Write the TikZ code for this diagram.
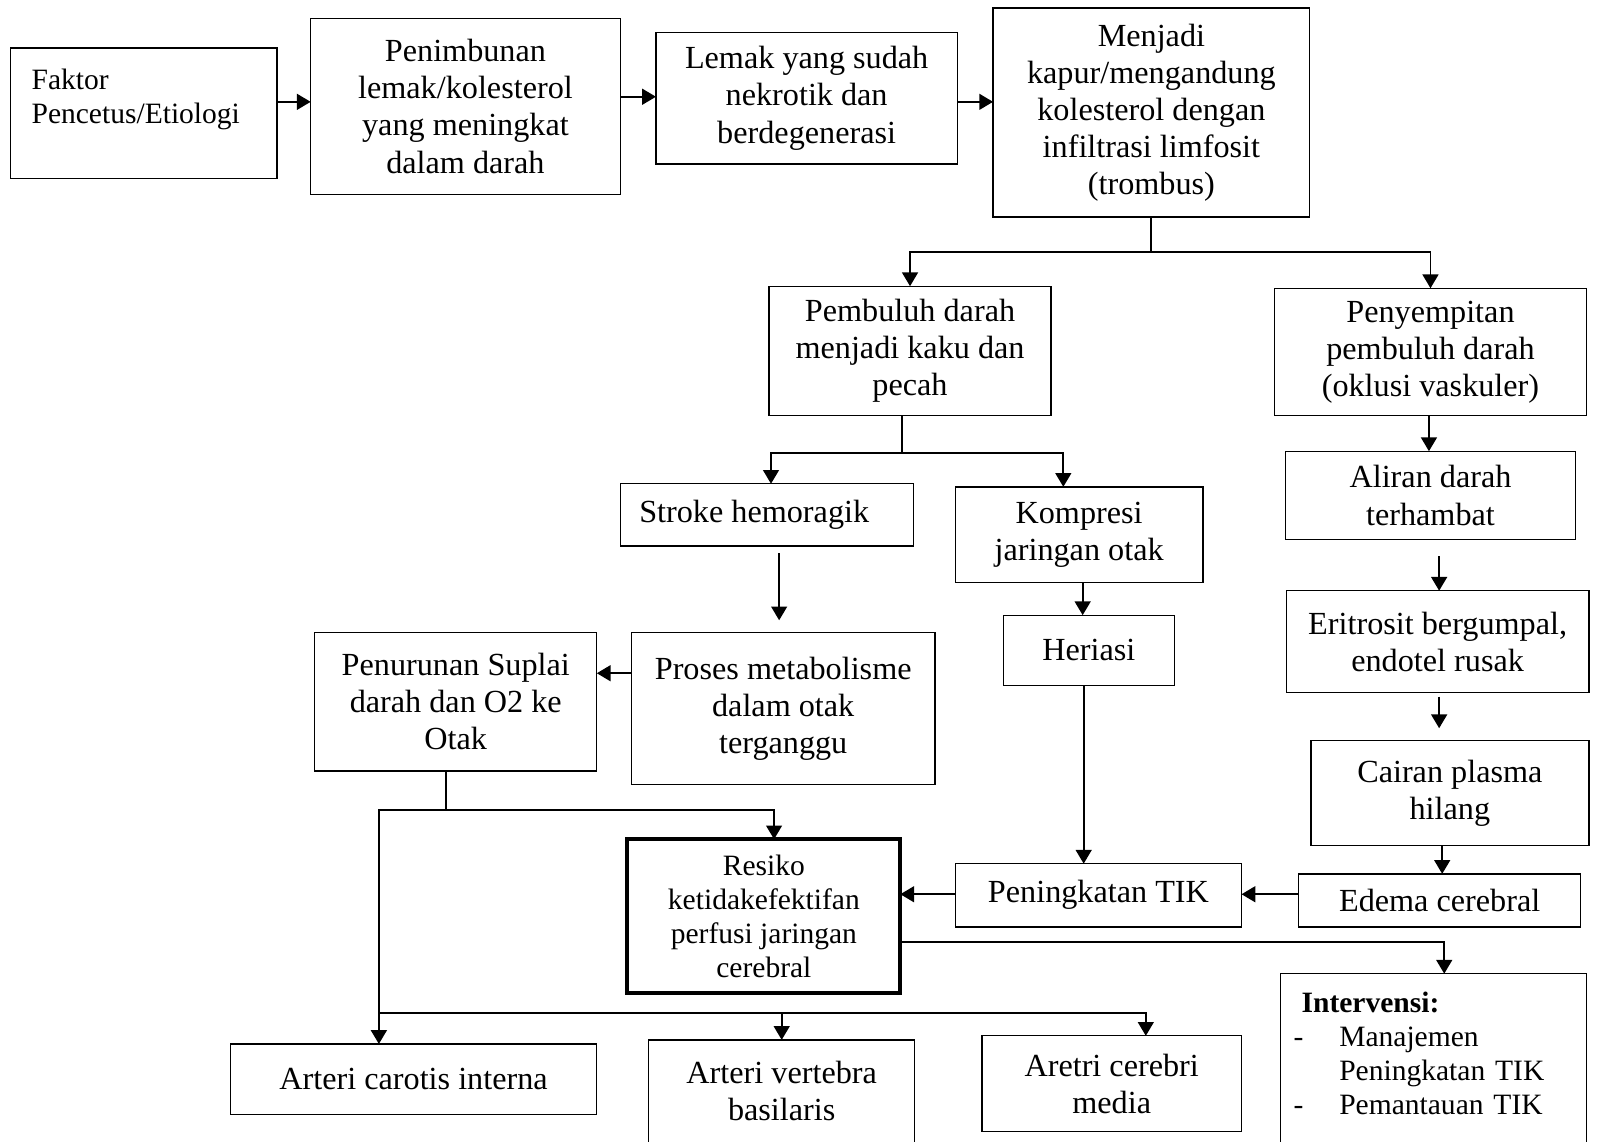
\documentclass[tikz,border=0pt]{standalone}
\usepackage{fontspec}
\setmainfont{Liberation Serif}
\usetikzlibrary{arrows.meta}
\tikzset{>={Triangle[length=2.7mm,width=3.1mm]}}

\begin{document}
\begin{tikzpicture}[x=0.02cm,y=-0.02cm,
    box/.style={draw,line width=0.75pt,inner sep=0pt,outer sep=0pt,align=center,font=\fontsize{18}{20.7}\selectfont},
    smallbox/.style={box,font=\fontsize{16.5}{19}\selectfont},
    arr/.style={->,line width=1.1pt},
    link/.style={line width=1.1pt}]
        \useasboundingbox (0,0) rectangle (1568,1121);

        % top row
        \node[smallbox,align=left,text width=4.4cm,inner xsep=0.42cm,minimum height=2.56cm] (faktor) at (141,111) {Faktor\\Pencetus/Etiologi\\~};
        \node[box,minimum width=6.08cm,minimum height=3.46cm] (penimb) at (457,104.5) {Penimbunan\\lemak/kolesterol\\yang meningkat\\dalam darah};
        \node[box,minimum width=5.92cm,minimum height=2.58cm] (lemak) at (792,96.5) {Lemak yang sudah\\nekrotik dan\\berdegenerasi};
        \node[box,minimum width=6.22cm,minimum height=4.1cm] (menjadi) at (1130.5,110.5) {Menjadi\\kapur/mengandung\\kolesterol dengan\\infiltrasi limfosit\\(trombus)};

        \draw[arr] (faktor.east |- 0,100) -- (penimb.west |- 0,100);
        \draw[arr] (penimb.east |- 0,95) -- (lemak.west |- 0,95);
        \draw[arr] (lemak.east |- 0,100) -- (menjadi.west |- 0,100);

        % two branches
        \node[box,minimum width=5.54cm,minimum height=2.54cm] (pembuluh) at (893.5,344.5) {Pembuluh darah\\menjadi kaku dan\\pecah};
        \node[box,minimum width=6.14cm,minimum height=2.5cm] (penyempit) at (1404.5,345.5) {Penyempitan\\pembuluh darah\\(oklusi vaskuler)};

        \draw[link] (menjadi.south) -- ++(0,34) coordinate (split1);
        \draw[arr] (split1) -| (pembuluh.north);
        \draw[arr] (split1) -| (penyempit.north);

        % left branch
        \node[box,minimum width=5.76cm,minimum height=1.22cm] (stroke) at (753,505.5) {Stroke hemoragik\hspace*{0.5cm}};
        \node[box,minimum width=4.86cm,minimum height=1.88cm] (kompresi) at (1059.5,525) {Kompresi\\jaringan otak};
        \node[box,minimum width=3.36cm,minimum height=1.38cm] (heriasi) at (1069,638.5) {Heriasi};
        \node[box,minimum width=5.96cm,minimum height=2.98cm] (proses) at (769,695.5) {Proses metabolisme\\dalam otak\\terganggu};
        \node[box,minimum width=5.54cm,minimum height=2.72cm] (penurunan) at (447.5,689) {Penurunan Suplai\\darah dan O2 ke\\Otak};

        \draw[link] (pembuluh.south -| 886,0) -- ++(0,37) coordinate (split2);
        \draw[arr] (split2) -| (stroke.north -| 757,0);
        \draw[arr] (split2) -| (1044,0 |- kompresi.north);
        \draw[arr,shorten <=0.14cm,shorten >=0.24cm] (stroke.south -| 765,0) -- (proses.north -| 765,0);
        \draw[arr] (proses.west |- 0,661) -- (penurunan.east |- 0,661);
        \draw[arr] (kompresi.south -| 1063,0) -- (heriasi.north -| 1063,0);

        % right branch
        \node[box,minimum width=5.7cm,minimum height=1.74cm] (aliran) at (1404.5,486.5) {Aliran darah\\terhambat};
        \node[box,minimum width=5.94cm,minimum height=2cm] (eritrosit) at (1411.5,630) {Eritrosit bergumpal,\\endotel rusak};
        \node[box,minimum width=5.46cm,minimum height=2.06cm] (cairan) at (1423.5,778.5) {Cairan plasma\\hilang};
        \node[box,minimum width=5.54cm,minimum height=1.04cm] (edema) at (1413.5,884) {Edema cerebral};

        \draw[arr] (penyempit.south -| 1403,0) -- (aliran.north -| 1403,0);
        \draw[arr,shorten <=0.32cm] (aliran.south -| 1413,0) -- (eritrosit.north -| 1413,0);
        \draw[arr,shorten <=0.08cm,shorten >=0.24cm] (eritrosit.south -| 1413,0) -- (cairan.north -| 1413,0);
        \draw[arr] (cairan.south -| 1416,0) -- (edema.north -| 1416,0);

        % middle row
        \node[box,minimum width=5.62cm,minimum height=1.24cm] (tik) at (1078.5,879) {Peningkatan TIK};
        \node[smallbox,line width=2.2pt,minimum width=5.36cm,minimum height=3.02cm] (resiko) at (750,899.5) {Resiko\\ketidakefektifan\\perfusi jaringan\\cerebral};
        \node[smallbox,anchor=north west,align=left,text width=5.5cm,inner xsep=0.26cm,text height=0.76cm,text depth=4cm] (interv) at (1257,956) {\textbf{\hspace*{0.16cm}Intervensi:}\\\makebox[0.9cm][l]{-}Manajemen\\\hspace*{0.9cm}Peningkatan TIK\\\makebox[0.9cm][l]{-}Pemantauan TIK};

        \draw[arr] (heriasi.south -| 1064,0) -- (tik.north -| 1064,0);
        \draw[arr] (edema.west |- 0,878) -- (tik.east |- 0,878);
        \draw[arr] (tik.west |- 0,878) -- (resiko.east |- 0,878);
        \draw[arr] (resiko.east |- 0,925) -| (1418,0 |- interv.north);

        % arteries
        \node[box,minimum width=7.2cm,minimum height=1.38cm] (carotis) at (406,1059.5) {Arteri carotis interna};
        \node[box,minimum width=5.22cm,anchor=north,text height=1.58cm,text depth=2cm] (vertebra) at (767.5,1021) {Arteri vertebra\\basilaris};
        \node[box,minimum width=5.1cm,minimum height=1.88cm] (aretri) at (1091.5,1064) {Aretri cerebri\\media};

        \draw[link] (penurunan.south -| 438,0) -- ++(0,38) coordinate (split3);
        \draw[arr] (split3) -| (760,0 |- resiko.north);
        \draw[arr] (split3) -| (372,0 |- carotis.north);
        \coordinate (split4) at (372,995);
        \draw[arr] (split4) -| (vertebra.north);
        \draw[arr] (split4) -| (1125,0 |- aretri.north);
\end{tikzpicture}
\end{document}
